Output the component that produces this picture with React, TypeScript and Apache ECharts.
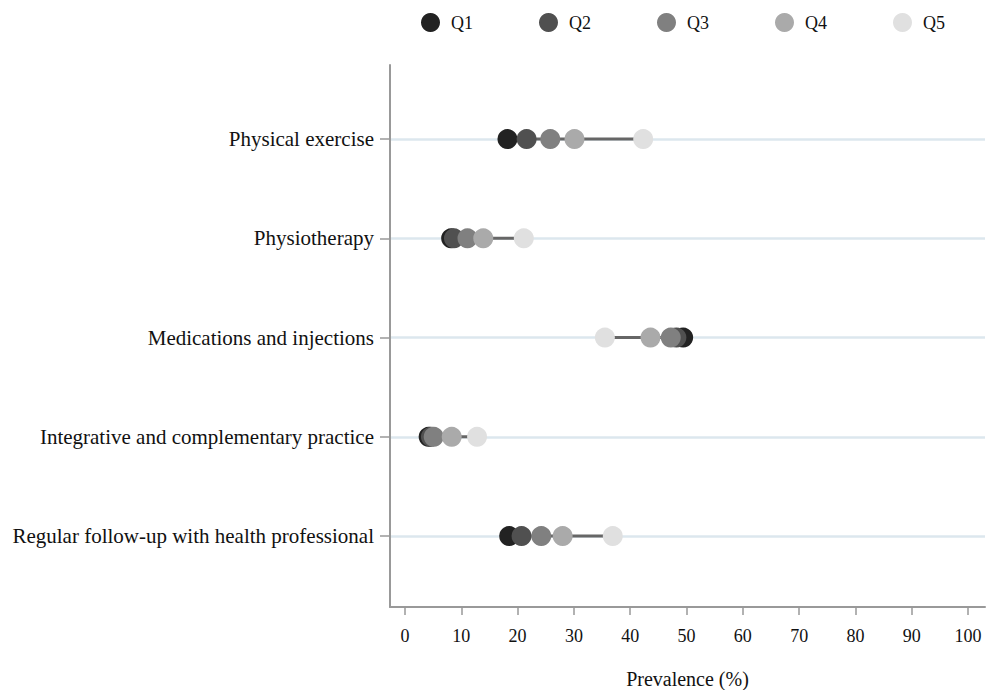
import React, { useEffect, useRef } from "react";
import * as echarts from "echarts";

const categories = [
  "Physical exercise",
  "Physiotherapy",
  "Medications and injections",
  "Integrative and complementary practice",
  "Regular follow-up with health professional",
];
const quintiles = ["Q1", "Q2", "Q3", "Q4", "Q5"];
const q1 = [18.2, 8.2, 49.4, 4.2, 18.5];
const q2 = [21.6, 8.7, 48.2, 4.6, 20.7];
const q3 = [25.8, 11.1, 47.2, 5.1, 24.2];
const q4 = [30.1, 13.9, 43.6, 8.3, 28.0];
const q5 = [42.3, 21.1, 35.5, 12.8, 36.9];
const xTicks = [0, 10, 20, 30, 40, 50, 60, 70, 80, 90, 100];
const colors = ["#222222", "#505050", "#808080", "#aaaaaa", "#e0e0e0"];

const FONT = "'Liberation Serif', 'Times New Roman', serif";

export default function App() {
  const ref = useRef<HTMLDivElement>(null);
  useEffect(() => {
    if (!ref.current) return;
    const chart = echarts.init(ref.current, null, { renderer: "svg" });
    const all = [q1, q2, q3, q4, q5];
    const ranges = categories.map((_, i) => {
      const vals = all.map((a) => a[i]);
      return [Math.min(...vals), Math.max(...vals), i];
    });
    const catIdx = categories.map((_, i) => i);
    chart.setOption({
      animation: false,
      textStyle: { fontFamily: FONT },
      legend: {
        top: 8,
        left: 416,
        icon: "circle",
        itemWidth: 19,
        itemHeight: 19,
        itemGap: 66,
        data: quintiles,
        textStyle: { fontFamily: FONT, fontSize: 18, color: "#111", padding: [0, 0, 0, 6] },
      },
      grid: {
        left: 390,
        right: 7,
        top: 65,
        bottom: 83,
        containLabel: false,
        outerBoundsMode: "none",
      },
      xAxis: {
        type: "value",
        min: -2.66,
        max: 103,
        name: "Prevalence (%)",
        nameLocation: "middle",
        nameGap: 62,
        nameTextStyle: { fontFamily: FONT, fontSize: 20, color: "#111" },
        axisLine: { show: true, onZero: false, lineStyle: { color: "#999", width: 2 } },
        axisTick: { show: true, length: 8, lineStyle: { color: "#999", width: 1.5 }, customValues: xTicks },
        axisLabel: { fontFamily: FONT, fontSize: 18, color: "#111", margin: 20, customValues: xTicks },
        splitLine: { show: false },
      },
      yAxis: {
        type: "value",
        inverse: true,
        min: -0.746,
        max: 4.715,
        axisLine: { show: true, onZero: false, lineStyle: { color: "#999", width: 2 } },
        axisTick: { show: true, length: 10, lineStyle: { color: "#999", width: 1.5 }, customValues: catIdx },
        axisLabel: {
          fontFamily: FONT,
          fontSize: 21,
          color: "#111",
          margin: 16,
          customValues: catIdx,
          formatter: (v: number) => categories[Math.round(v)] ?? "",
        },
        splitLine: { show: false },
      },
      series: [
        {
          type: "custom",
          name: "range",
          z: 1,
          silent: true,
          data: ranges,
          renderItem: (params: any, api: any) => {
            const a = api.coord([api.value(0), api.value(2)]);
            const b = api.coord([api.value(1), api.value(2)]);
            return {
              type: "line",
              shape: { x1: a[0], y1: a[1], x2: b[0], y2: b[1] },
              style: { stroke: "#666", lineWidth: 3 },
            };
          },
          markLine: {
            silent: true,
            symbol: "none",
            label: { show: false },
            lineStyle: { color: "#dce7ee", width: 2.5, type: "solid" },
            z: 0,
            data: catIdx.map((i) => ({ yAxis: i })),
          },
        },
        ...quintiles.map((q, k) => ({
          type: "scatter",
          name: q,
          z: 2 + k,
          symbol: "circle",
          symbolSize: 20,
          itemStyle: { color: colors[k], opacity: 1 },
          data: all[k].map((v, i) => [v, i]),
        })),
      ],
    });
    return () => chart.dispose();
  }, []);
  return <div ref={ref} style={{ width: 992, height: 690, position: "absolute", left: 0, top: 0 }} />;
}
